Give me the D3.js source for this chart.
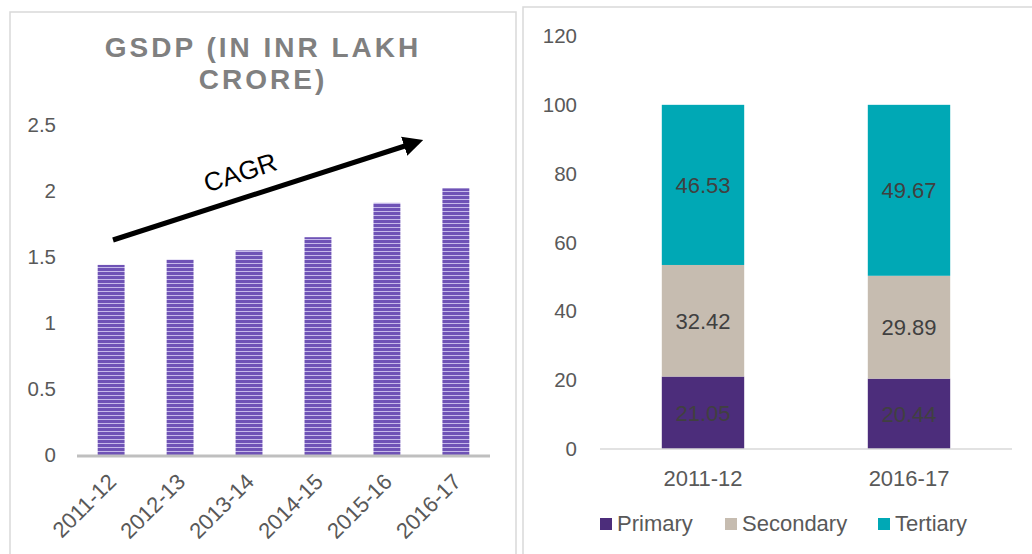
<!DOCTYPE html>
<html>
<head>
<meta charset="utf-8">
<script src="https://cdn.jsdelivr.net/npm/d3@7"></script>
<style>
  body { margin: 0; background: #fff; }
  svg text { font-family: "Liberation Sans", Arial, sans-serif; }
</style>
</head>
<body>
<svg id="chart" width="1032" height="554"></svg>
<script>
// ---- data
var years = ["2011-12", "2012-13", "2013-14", "2014-15", "2015-16", "2016-17"];
var gsdp = [1.44, 1.48, 1.55, 1.65, 1.91, 2.02];
var gsdpTicks = [0, 0.5, 1, 1.5, 2, 2.5];

var shareYears = ["2011-12", "2016-17"];
var sectors = ["Primary", "Secondary", "Tertiary"];
var primary = [21.05, 20.44];
var secondary = [32.42, 29.89];
var tertiary = [46.53, 49.67];
var shareTicks = [0, 20, 40, 60, 80, 100, 120];

var colors = ["#4c2d7b", "#c6bcb0", "#00a8b5"];

var svg = d3.select("#chart");

// stripe pattern for the GSDP bars
var defs = svg.append("defs");
var pat = defs.append("pattern")
    .attr("id", "stripes")
    .attr("patternUnits", "userSpaceOnUse")
    .attr("width", 8).attr("height", 4);
pat.append("rect").attr("width", 8).attr("height", 4).attr("fill", "#6f53b6");
pat.append("rect").attr("y", 3).attr("width", 8).attr("height", 1).attr("fill", "#c6b9ea");

defs.append("marker")
    .attr("id", "arrow")
    .attr("viewBox", "0 0 10 10")
    .attr("refX", 2).attr("refY", 5)
    .attr("markerWidth", 4).attr("markerHeight", 4.2)
    .attr("orient", "auto")
  .append("path")
    .attr("d", "M0,0 L10,5 L0,10 z")
    .attr("fill", "#000");

// panel frames
svg.append("rect").attr("x", 10).attr("y", 12).attr("width", 506).attr("height", 560)
    .attr("fill", "none").attr("stroke", "#d9d9d9").attr("stroke-width", 1.5);
svg.append("rect").attr("x", 523).attr("y", 7).attr("width", 520).attr("height", 560)
    .attr("fill", "none").attr("stroke", "#d9d9d9").attr("stroke-width", 1.5);

//////////////// left chart: GSDP
var x1 = d3.scaleBand().domain(years).range([77, 490]).paddingInner(0.61).paddingOuter(0.3);
var y1 = d3.scaleLinear().domain([0, 2.5]).range([455, 125]);

var left = svg.append("g");

left.append("text")
    .attr("x", 263).attr("y", 57)
    .attr("text-anchor", "middle")
    .attr("fill", "#808080")
    .style("font-size", "28px").style("font-weight", "bold").style("letter-spacing", "3px")
    .text("GSDP (IN INR LAKH");
left.append("text")
    .attr("x", 263).attr("y", 89)
    .attr("text-anchor", "middle")
    .attr("fill", "#808080")
    .style("font-size", "28px").style("font-weight", "bold").style("letter-spacing", "3px")
    .text("CRORE)");

left.selectAll(".ytick")
    .data(gsdpTicks)
    .enter().append("text")
    .attr("x", 56)
    .attr("y", d => y1(d) + 7)
    .attr("text-anchor", "end")
    .attr("fill", "#595959")
    .style("font-size", "20.5px")
    .text(d => d);

left.selectAll(".bar")
    .data(gsdp)
    .enter().append("rect")
    .attr("x", (d, i) => x1(years[i]))
    .attr("y", d => y1(d))
    .attr("width", x1.bandwidth())
    .attr("height", d => y1(0) - y1(d))
    .attr("fill", "url(#stripes)");

left.append("line")
    .attr("x1", 77).attr("x2", 490)
    .attr("y1", y1(0) + 1).attr("y2", y1(0) + 1)
    .attr("stroke", "#bfbfbf").attr("stroke-width", 3);

left.selectAll(".xlab")
    .data(years)
    .enter().append("text")
    .attr("transform", d => "translate(" + (x1(d) + x1.bandwidth() / 2 + 6.5) + "," + 483 + ") rotate(-45)")
    .attr("text-anchor", "end")
    .attr("fill", "#595959")
    .style("font-size", "22px")
    .text(d => d);

// CAGR arrow
left.append("line")
    .attr("x1", 113).attr("y1", 240)
    .attr("x2", 408).attr("y2", 145)
    .attr("stroke", "#000").attr("stroke-width", 5)
    .attr("marker-end", "url(#arrow)");
left.append("text")
    .attr("transform", "translate(243,181) rotate(-18)")
    .attr("text-anchor", "middle")
    .attr("fill", "#000")
    .style("font-size", "26px")
    .text("CAGR");

//////////////// right chart: sector shares
var x2 = d3.scaleBand().domain(shareYears).range([600, 1012]).paddingInner(0.6).paddingOuter(0.3);
var y2 = d3.scaleLinear().domain([0, 120]).range([449, 36]);

var right = svg.append("g");

right.selectAll(".ytick")
    .data(shareTicks)
    .enter().append("text")
    .attr("x", 577)
    .attr("y", d => y2(d) + 7)
    .attr("text-anchor", "end")
    .attr("fill", "#595959")
    .style("font-size", "20.5px")
    .text(d => d);

var rows = shareYears.map((yr, i) => ({ year: yr, Primary: primary[i], Secondary: secondary[i], Tertiary: tertiary[i] }));
var stacked = d3.stack().keys(sectors)(rows);

var layer = right.selectAll(".layer")
    .data(stacked)
    .enter().append("g")
    .attr("fill", (d, i) => colors[i]);

layer.selectAll("rect")
    .data(d => d)
    .enter().append("rect")
    .attr("x", d => x2(d.data.year))
    .attr("y", d => y2(d[1]))
    .attr("width", x2.bandwidth())
    .attr("height", d => y2(d[0]) - y2(d[1]));

layer.selectAll(".val")
    .data((d, i) => d.map(p => ({ p: p, key: sectors[i] })))
    .enter().append("text")
    .attr("x", d => x2(d.p.data.year) + x2.bandwidth() / 2)
    .attr("y", d => (y2(d.p[0]) + y2(d.p[1])) / 2 + 8)
    .attr("text-anchor", "middle")
    .attr("fill", "#404040")
    .style("font-size", "22px")
    .text(d => d.p.data[d.key].toFixed(2));

right.append("line")
    .attr("x1", 600).attr("x2", 1012)
    .attr("y1", y2(0)).attr("y2", y2(0))
    .attr("stroke", "#d9d9d9").attr("stroke-width", 1.5);

right.selectAll(".xlab")
    .data(shareYears)
    .enter().append("text")
    .attr("x", d => x2(d) + x2.bandwidth() / 2)
    .attr("y", 486)
    .attr("text-anchor", "middle")
    .attr("fill", "#595959")
    .style("font-size", "22px")
    .text(d => d);

// legend
var legendX = [600, 725, 878];
var legend = right.selectAll(".leg")
    .data(sectors)
    .enter().append("g")
    .attr("transform", (d, i) => "translate(" + legendX[i] + ",518)");
legend.append("rect")
    .attr("width", 12).attr("height", 12)
    .attr("fill", (d, i) => colors[i]);
legend.append("text")
    .attr("x", 17).attr("y", 13)
    .attr("fill", "#595959")
    .style("font-size", "22px")
    .text(d => d);
</script>
</body>
</html>
